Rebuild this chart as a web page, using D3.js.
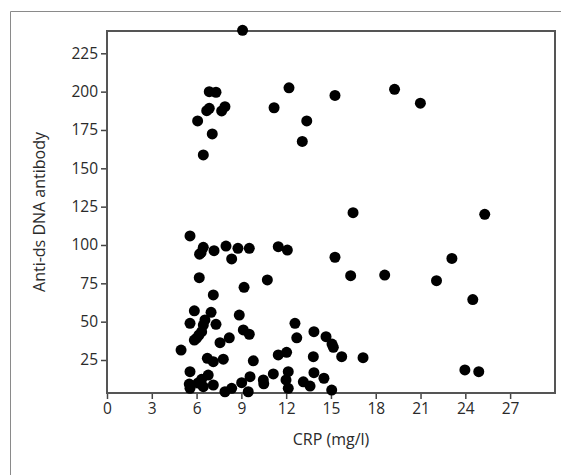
<!DOCTYPE html>
<html>
<head>
<meta charset="utf-8">
<script src="https://cdn.jsdelivr.net/npm/d3@7"></script>
<style>
	body { margin: 0; background: #fff; }
	svg text { font-family: "Open Sans", "Noto Sans", sans-serif; fill: #2a2a2a; }
</style>
</head>
<body>
<svg id="scatter" width="561" height="475"></svg>
<script>
// CRP (mg/l) values of the points
const crp = [
	9.08, 6.85, 7.3, 6.85, 6.68, 7.9, 7.68, 6.07, 7.05, 6.45,
	12.19, 11.19, 13.38, 13.08, 15.27, 19.26, 20.99,
	5.56, 6.45, 6.3, 6.2, 7.17, 7.97, 8.77, 9.53, 8.35, 11.47, 12.08,
	15.27, 16.32, 6.18, 9.18, 10.74, 7.12,
	16.48, 25.3, 18.6, 22.07, 23.1, 24.5,
	5.85, 6.97, 5.56, 6.56, 6.45, 7.3, 8.86, 6.34, 6.16, 6.0, 5.85,
	9.13, 9.53, 8.19, 7.57, 4.96, 6.72, 7.12, 7.79, 9.8,
	5.56, 6.78, 6.34, 6.1, 5.51, 5.56, 6.45, 7.12, 7.9, 8.35, 9.02, 9.46,
	9.58, 10.47, 10.5, 11.14, 11.47, 12.03, 12.14, 11.99, 12.14,
	12.59, 12.71, 13.15, 13.6, 13.86, 13.82, 13.86, 14.53, 14.67,
	15.16, 15.07, 15.72, 15.05, 17.15, 23.97, 24.9
]
// Anti-ds DNA antibody values, same order
const antiDna = [
	240, 200, 199.6, 189.1, 187.6, 190.2, 187.4, 180.9, 172.4, 158.7,
	202.5, 189.5, 180.9, 167.5, 197.5, 201.5, 192.5,
	105.9, 98.5, 95, 94, 96.3, 99.3, 97.8, 97.8, 90.9, 98.9, 96.7,
	92, 80, 78.7, 72.4, 77.2, 67.4,
	121.1, 120, 80.4, 76.7, 91.2, 64.4,
	57.1, 56.1, 48.9, 51.1, 47.8, 48.3, 54.3, 43.5, 41.3, 39.2, 38,
	44.6, 41.8, 39.5, 36.3, 31.5, 26.1, 23.9, 25.5, 24.5,
	17.4, 15.2, 12.4, 10, 9.3, 6.5, 7.6, 8.7, 4.3, 6.5, 10.2, 4.3,
	14.1, 12, 9.5, 15.9, 28.3, 30, 17.4, 12, 6.5,
	48.9, 39.5, 10.8, 8, 43.5, 27.2, 16.7, 13.1, 40.2,
	33.3, 35.4, 27.2, 5.4, 26.5, 18.5, 17.4
]
const xTicks = [0, 3, 6, 9, 12, 15, 18, 21, 24, 27]
const yTicks = [25, 50, 75, 100, 125, 150, 175, 200, 225]

let svg = d3.select("#scatter")

// light outer frame (top and left only)
svg.append("path")
	.attr("d", "M10.5,475 V11.5 H561")
	.attr("fill", "none")
	.attr("stroke", "#8a8a8a")
	.attr("stroke-width", 1)

let box = { left: 107, right: 555, top: 31, bottom: 393 }

let xScale = d3.scaleLinear()
	.domain([0, 30])
	.range([box.left, box.left + 30 * 14.93])

let yScale = d3.scaleLinear()
	.domain([25, 225])
	.range([360, 53.3])

// axes
svg.append("g")
	.attr("class", "axis axis-x")
	.attr("transform", "translate(0," + box.bottom + ")")
	.call(d3.axisBottom(xScale).tickValues(xTicks).tickSize(6).tickPadding(4))

svg.append("g")
	.attr("class", "axis axis-y")
	.attr("transform", "translate(" + box.left + ",0)")
	.call(d3.axisLeft(yScale).tickValues(yTicks).tickSize(6).tickPadding(3))

svg.selectAll(".axis .domain").remove()
svg.selectAll(".axis line").attr("stroke", "#444").attr("stroke-width", 1.5)
svg.selectAll(".axis text")
	.attr("font-size", 15.5)
	.style("font-family", "\"Open Sans\", \"Noto Sans\", sans-serif")
	.attr("fill", "#2a2a2a")

// plot frame
svg.append("rect")
	.attr("x", box.left)
	.attr("y", box.top)
	.attr("width", box.right - box.left)
	.attr("height", box.bottom - box.top)
	.attr("fill", "none")
	.attr("stroke", "#555")
	.attr("stroke-width", 2)

// points
svg.append("g")
	.selectAll("circle")
	.data(crp.map((d, i) => ({ x: d, y: antiDna[i] })))
	.join("circle")
	.attr("cx", d => xScale(d.x))
	.attr("cy", d => yScale(d.y))
	.attr("r", 5.5)
	.attr("fill", "#000")

// axis titles
svg.append("text")
	.attr("x", 331)
	.attr("y", 445)
	.attr("text-anchor", "middle")
	.attr("font-size", 16)
	.text("CRP (mg/l)")

svg.append("text")
	.attr("transform", "translate(45,212) rotate(-90)")
	.attr("text-anchor", "middle")
	.attr("font-size", 16)
	.text("Anti-ds DNA antibody")
</script>
</body>
</html>
